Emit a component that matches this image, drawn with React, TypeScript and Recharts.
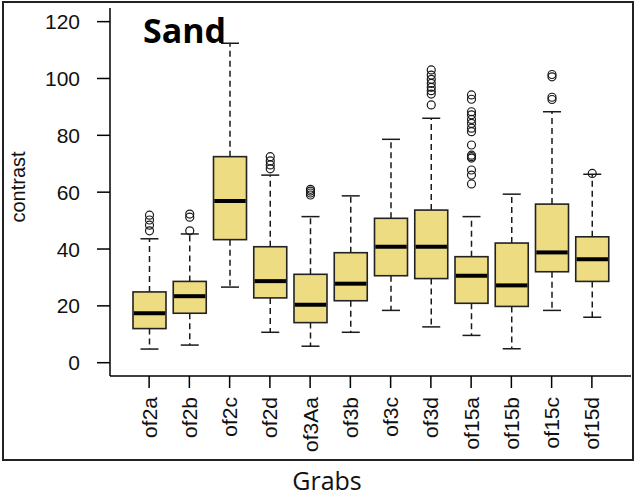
import React from 'react';
import { ComposedChart, Bar, XAxis, YAxis } from 'recharts';

const categories = ['of2a', 'of2b', 'of2c', 'of2d', 'of3Aa', 'of3b', 'of3c', 'of3d', 'of15a', 'of15b', 'of15c', 'of15d'];
const whiskerLow = [4.8, 6.2, 26.6, 10.7, 5.8, 10.7, 18.4, 12.6, 9.6, 4.9, 18.4, 16.0];
const q1 = [12.0, 17.4, 43.3, 22.8, 14.1, 21.8, 30.6, 29.6, 20.9, 19.8, 32.0, 28.6];
const median = [17.4, 23.4, 56.9, 28.7, 20.4, 27.8, 40.8, 40.8, 30.6, 27.2, 38.8, 36.4];
const q3 = [24.9, 28.6, 72.5, 40.8, 31.1, 38.7, 50.8, 53.7, 37.3, 42.1, 55.8, 44.3];
const whiskerHigh = [43.6, 45.3, 112.4, 66.0, 51.4, 58.7, 78.6, 86.0, 51.4, 59.3, 88.3, 66.3];
const outliers = [
  [46.4, 48.4, 50.2, 51.9],
  [46.4, 51.2, 52.3],
  [],
  [68.2, 69.6, 71.0, 72.5],
  [59.0, 59.7, 60.4, 61.0],
  [],
  [],
  [90.7, 94.5, 95.7, 96.9, 98.3, 99.7, 101.2, 103.0],
  [62.9, 66.0, 67.8, 72.0, 72.5, 73.0, 76.6, 81.3, 82.5, 84.2, 85.6, 87.2, 88.3, 92.7, 94.2],
  [],
  [92.6, 93.4, 100.6, 101.4],
  [66.6],
];
const yTicks = [0, 20, 40, 60, 80, 100, 120];

const data = categories.map((name, i) => ({
  name,
  lo: whiskerLow[i],
  q1: q1[i],
  med: median[i],
  q3: q3[i],
  hi: whiskerHigh[i],
  out: outliers[i],
}));

const FONT = "'Liberation Sans', Arial, sans-serif";

const BoxShape = (props: any) => {
  const { x, y, width, height, payload } = props;
  const top = Math.min(y, y + height);
  const bottom = Math.max(y, y + height);
  const lo = payload.lo;
  const hi = payload.hi;
  const py = (v: number) => bottom - ((v - lo) / (hi - lo)) * (bottom - top);
  const cx = x + width / 2;
  const ink = '#1a1a1a';
  return (
    <g>
      <line x1={cx} x2={cx} y1={py(payload.q3)} y2={py(hi)} stroke={ink} strokeWidth={1.5} strokeDasharray="6 4" />
      <line x1={cx} x2={cx} y1={py(payload.q1)} y2={py(lo)} stroke={ink} strokeWidth={1.5} strokeDasharray="6 4" />
      <line x1={cx - 9} x2={cx + 9} y1={py(hi)} y2={py(hi)} stroke={ink} strokeWidth={1.5} />
      <line x1={cx - 9} x2={cx + 9} y1={py(lo)} y2={py(lo)} stroke={ink} strokeWidth={1.5} />
      <rect x={x} y={py(payload.q3)} width={width} height={py(payload.q1) - py(payload.q3)} fill="#EEDC82" stroke="#222" strokeWidth={1.6} />
      <line x1={x + 0.8} x2={x + width - 0.8} y1={py(payload.med)} y2={py(payload.med)} stroke="#000" strokeWidth={4} />
      {payload.out.map((v: number, k: number) => (
        <circle key={k} cx={cx} cy={py(v)} r={4} fill="none" stroke={ink} strokeWidth={1.2} />
      ))}
    </g>
  );
};

const XTick = (props: any) => {
  const { x, y, payload } = props;
  const ty = y + 7;
  return (
    <text
      x={x}
      y={ty}
      transform={`rotate(-90, ${x}, ${ty})`}
      textAnchor="end"
      dy="0.36em"
      fill="#111"
      fontSize={21}
      fontFamily={FONT}
    >
      {payload.value}
    </text>
  );
};

const YTick = (props: any) => {
  const { x, y, payload } = props;
  return (
    <text x={x - 15} y={y} textAnchor="end" dy="0.36em" fill="#111" fontSize={21} fontFamily={FONT}>
      {payload.value}
    </text>
  );
};

export default function App() {
  return (
    <div style={{ position: 'absolute', left: 0, top: 0, width: 635, height: 497, background: '#fff' }}>
      <div
        style={{
          position: 'absolute',
          left: 2,
          top: 1,
          width: 632,
          height: 460,
          border: '2px solid #222',
          boxSizing: 'border-box',
        }}
      />
      <div style={{ position: 'absolute', left: 0, top: 0 }}>
        <ComposedChart width={635} height={497} data={data} margin={{ top: 8, right: 4, bottom: 31, left: 10 }}>
          <XAxis
            dataKey="name"
            type="category"
            padding={{ left: 19, right: 19 }}
            height={90}
            tickSize={12}
            tick={<XTick />}
            axisLine={{ stroke: '#000', strokeWidth: 1.5 }}
            tickLine={{ stroke: '#000', strokeWidth: 1.5 }}
            interval={0}
          />
          <XAxis xAxisId="top" orientation="top" dataKey="name" height={0} tick={false} tickLine={false} axisLine={{ stroke: '#000', strokeWidth: 1.5 }} />
          <YAxis
            type="number"
            domain={[-4.68, 124.8]}
            ticks={yTicks}
            width={100}
            tickSize={13}
            interval={0}
            axisLine={{ stroke: '#000', strokeWidth: 1.5 }}
            tickLine={{ stroke: '#000', strokeWidth: 1.5 }}
            tick={<YTick />}
          />
          <YAxis yAxisId="right" orientation="right" width={0} tick={false} tickLine={false} axisLine={{ stroke: '#000', strokeWidth: 1.5 }} />
          <Bar dataKey={(d: any) => [d.lo, d.hi]} barSize={33} shape={<BoxShape />} isAnimationActive={false} />
        </ComposedChart>
      </div>
      <svg width={635} height={497} style={{ position: 'absolute', left: 0, top: 0, pointerEvents: 'none' }}>
        <text
          x={25}
          y={187}
          transform="rotate(-90, 25, 187)"
          textAnchor="middle"
          fill="#111"
          fontSize={20}
          fontFamily={FONT}
        >
          contrast
        </text>
        <text x={143} y={43} fill="#000" fontSize={34} fontWeight="bold" fontFamily="'Open Sans', sans-serif">
          Sand
        </text>
        <text x={327} y={490} textAnchor="middle" fill="#111" fontSize={25} fontFamily="'Open Sans', sans-serif">
          Grabs
        </text>
      </svg>
    </div>
  );
}
